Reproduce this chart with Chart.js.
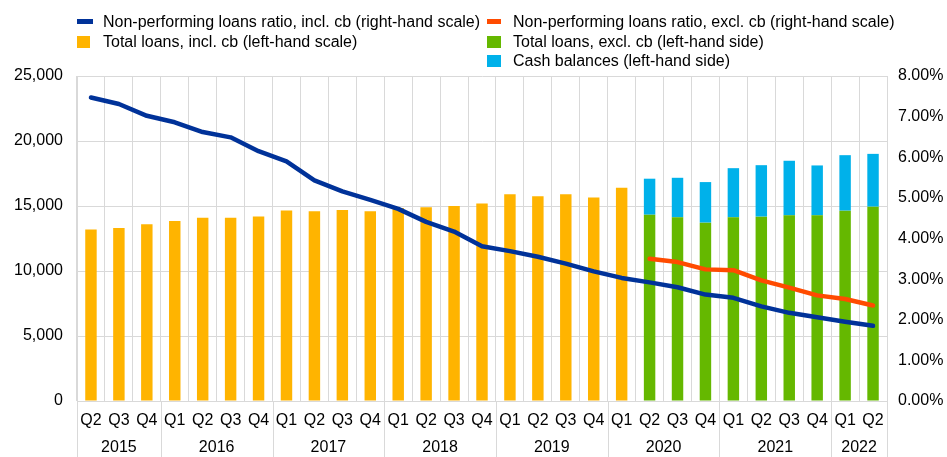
<!DOCTYPE html>
<html>
<head>
<meta charset="utf-8">
<script src="https://cdn.jsdelivr.net/npm/chart.js@4/dist/chart.umd.min.js"></script>
<style>
  html, body { margin: 0; padding: 0; background: #fff; }
  #wrap { position: relative; width: 947px; height: 457px; font-family: "Liberation Sans", Arial, sans-serif; }
  canvas { position: absolute; left: 0; top: 0; }
  .lg { position: absolute; font-size: 16px; color: #000; white-space: nowrap; line-height: 19px; }
  .sw { position: absolute; }
</style>
</head>
<body>
<div id="wrap">
  <canvas id="c" width="947" height="457"></canvas>
  <div class="sw" style="left:77px;top:19px;width:16px;height:5px;background:#003299"></div>
  <div class="lg" style="left:103px;top:12px">Non-performing loans ratio, incl. cb (right-hand scale)</div>
  <div class="sw" style="left:77px;top:36px;width:13px;height:12px;background:#FFB400"></div>
  <div class="lg" style="left:103px;top:32px">Total loans, incl. cb (left-hand scale)</div>
  <div class="sw" style="left:487px;top:19px;width:14px;height:5px;background:#FF4B00"></div>
  <div class="lg" style="left:513px;top:12px">Non-performing loans ratio, excl. cb (right-hand scale)</div>
  <div class="sw" style="left:487px;top:36px;width:14px;height:12px;background:#65B800"></div>
  <div class="lg" style="left:513px;top:32px">Total loans, excl. cb (left-hand side)</div>
  <div class="sw" style="left:487px;top:55px;width:14px;height:12px;background:#00B1EA"></div>
  <div class="lg" style="left:513px;top:51px">Cash balances (left-hand side)</div>
</div>
<script>
const quarters = ['Q2','Q3','Q4','Q1','Q2','Q3','Q4','Q1','Q2','Q3','Q4','Q1','Q2','Q3','Q4','Q1','Q2','Q3','Q4','Q1','Q2','Q3','Q4','Q1','Q2','Q3','Q4','Q1','Q2'];
const years = ['2015','2016','2017','2018','2019','2020','2021','2022'];
const quartersPerYear = [3,4,4,4,4,4,4,2];

const totalLoansInclCb = [13200,13300,13600,13850,14100,14100,14200,14650,14600,14700,14600,14850,14900,15000,15200,15900,15750,15900,15650,16400,null,null,null,null,null,null,null,null,null];
const totalLoansExclCb = [null,null,null,null,null,null,null,null,null,null,null,null,null,null,null,null,null,null,null,null,14330,14130,13720,14130,14180,14280,14280,14640,14950];
const cashBalances = [null,null,null,null,null,null,null,null,null,null,null,null,null,null,null,null,null,null,null,null,2770,3040,3120,3780,3960,4200,3840,4270,4060];
const nplInclCb = [7.47,7.31,7.02,6.86,6.62,6.49,6.15,5.90,5.43,5.16,4.95,4.73,4.41,4.17,3.81,3.69,3.55,3.38,3.19,3.03,2.92,2.80,2.62,2.54,2.33,2.17,2.06,1.95,1.85];
const nplExclCb = [null,null,null,null,null,null,null,null,null,null,null,null,null,null,null,null,null,null,null,null,3.50,3.42,3.24,3.22,2.97,2.79,2.60,2.51,2.35];

const leftTicks = [0,5000,10000,15000,20000,25000];
const rightTicks = [0,1,2,3,4,5,6,7,8];

const GRID = '#d9d9d9';

const yearPlugin = {
  id: 'yearPlugin',
  afterDraw(chart) {
    const x = chart.scales.x;
    const ctx = chart.ctx;
    const area = chart.chartArea;
    const bottom = chart.height;
    const n = quarters.length;
    const edge = (i) => {
      if (i <= 0) return area.left;
      if (i >= n) return area.right;
      return (x.getPixelForValue(i - 1) + x.getPixelForValue(i)) / 2;
    };
    ctx.save();
    ctx.strokeStyle = GRID;
    ctx.lineWidth = 1;
    ctx.fillStyle = '#000';
    ctx.font = '16px "Liberation Sans", Arial, sans-serif';
    ctx.textAlign = 'center';
    ctx.textBaseline = 'middle';
    let idx = 0;
    const bounds = [0];
    quartersPerYear.forEach((span, k) => {
      const l = edge(idx), r = edge(idx + span);
      ctx.fillText(years[k], (l + r) / 2, 448);
      idx += span;
      bounds.push(idx);
    });
    bounds.forEach(b => {
      const px = Math.round(edge(b)) + 0.5;
      ctx.beginPath();
      ctx.moveTo(px, area.bottom);
      ctx.lineTo(px, bottom);
      ctx.stroke();
    });
    ctx.restore();
  }
};

Chart.defaults.font.family = '"Liberation Sans", Arial, sans-serif';
Chart.defaults.font.size = 16;
Chart.defaults.color = '#000';

new Chart(document.getElementById('c'), {
  type: 'bar',
  data: {
    labels: quarters,
    datasets: [
      { type: 'line', label: 'Non-performing loans ratio, incl. cb (right-hand scale)', data: nplInclCb, yAxisID: 'y1',
        borderColor: '#003299', backgroundColor: '#003299', borderWidth: 4.5, pointRadius: 0, tension: 0,
        borderCapStyle: 'round', borderJoinStyle: 'round', order: 0 },
      { type: 'line', label: 'Non-performing loans ratio, excl. cb (right-hand scale)', data: nplExclCb, yAxisID: 'y1',
        borderColor: '#FF4B00', backgroundColor: '#FF4B00', borderWidth: 4.5, pointRadius: 0, tension: 0,
        borderCapStyle: 'round', borderJoinStyle: 'round', order: 0 },
      { label: 'Total loans, incl. cb (left-hand scale)', data: totalLoansInclCb, backgroundColor: '#FFB400', stack: 's', order: 1 },
      { label: 'Total loans, excl. cb (left-hand side)', data: totalLoansExclCb, backgroundColor: '#65B800', stack: 's', order: 1 },
      { label: 'Cash balances (left-hand side)', data: cashBalances, backgroundColor: '#00B1EA', stack: 's', order: 1 }
    ]
  },
  options: {
    responsive: false,
    animation: false,
    devicePixelRatio: 1,
    layout: { padding: { top: 76, left: 0, right: 0, bottom: 0 } },
    datasets: { bar: { barPercentage: 0.41, categoryPercentage: 1 } },
    plugins: { legend: { display: false }, tooltip: { enabled: false } },
    scales: {
      x: {
        stacked: true,
        offset: true,
        grid: { offset: true, color: GRID, drawTicks: false },
        border: { color: GRID },
        ticks: { padding: 10, maxRotation: 0, autoSkip: false },
        afterFit: (s) => { s.height = 56; }
      },
      y: {
        position: 'left',
        stacked: true,
        min: 0, max: 25000,
        afterBuildTicks: (s) => { s.ticks = leftTicks.map(v => ({ value: v })); },
        grid: { color: GRID, drawTicks: false },
        border: { color: GRID },
        ticks: { padding: 14, callback: (v) => v.toLocaleString('en-US') },
        afterFit: (s) => { s.width = 77; }
      },
      y1: {
        position: 'right',
        min: 0, max: 8,
        afterBuildTicks: (s) => { s.ticks = rightTicks.map(v => ({ value: v })); },
        grid: { display: false, drawTicks: false },
        border: { color: GRID },
        ticks: { padding: 11, callback: (v) => v.toFixed(2) + '%' },
        afterFit: (s) => { s.width = 60; }
      }
    }
  },
  plugins: [yearPlugin]
});
</script>
</body>
</html>
